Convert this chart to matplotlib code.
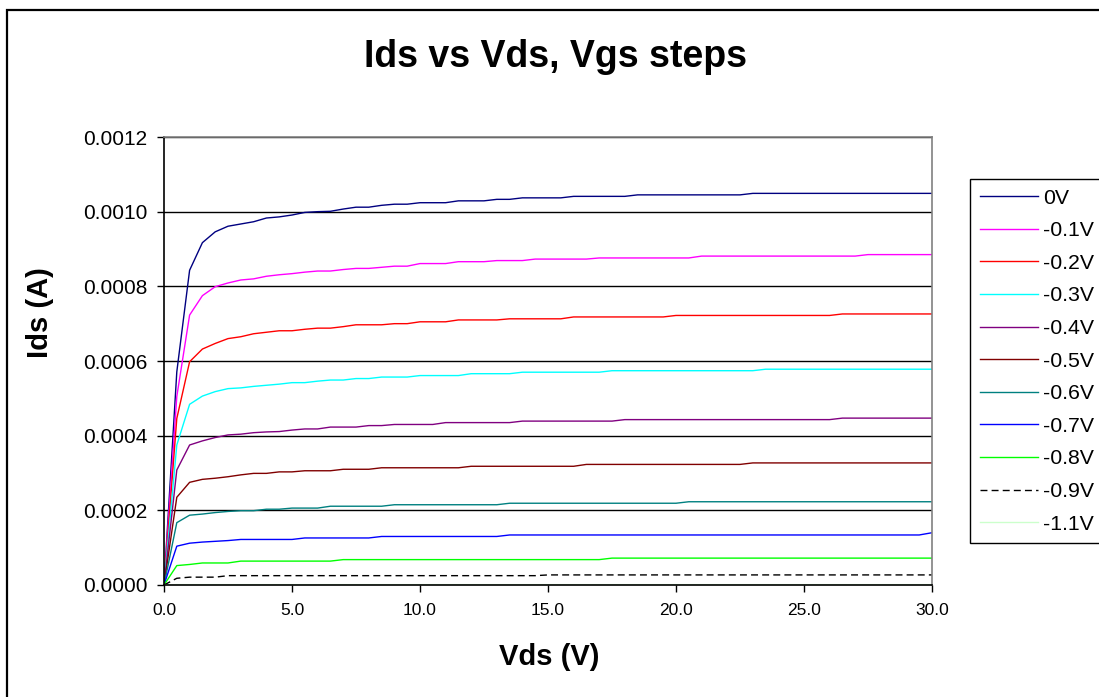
import numpy as np
import matplotlib
matplotlib.use('Agg')
import matplotlib.pyplot as plt
from matplotlib.patches import Rectangle
from matplotlib.ticker import FormatStrFormatter, MultipleLocator

plt.rcParams['font.family'] = ['Liberation Sans', 'DejaVu Sans']

# Drain voltage sweep (V), one sample every 0.5 V
vds = np.arange(0, 30.01, 0.5)

# Drain current per gate step, in uA
ids_0v = [0, 571, 843, 917, 946, 961, 967, 973, 983, 986,
          991, 998, 1000, 1001, 1007, 1012, 1012, 1017, 1020, 1020,
          1024, 1024, 1024, 1029, 1029, 1029, 1033, 1033, 1037, 1037,
          1037, 1037, 1041, 1041, 1041, 1041, 1041, 1045, 1045, 1045,
          1045, 1045, 1045, 1045, 1045, 1045, 1049, 1049, 1049, 1049,
          1049, 1049, 1049, 1049, 1049, 1049, 1049, 1049, 1049, 1049,
          1049]
ids_m01 = [0, 505, 723, 775, 799, 809, 817, 820, 827, 831,
           834, 838, 841, 841, 845, 848, 848, 851, 854, 854,
           861, 861, 861, 866, 866, 866, 869, 869, 869, 873,
           873, 873, 873, 873, 876, 876, 876, 876, 876, 876,
           876, 876, 881, 881, 881, 881, 881, 881, 881, 881,
           881, 881, 881, 881, 881, 885, 885, 885, 885, 885,
           885]
ids_m02 = [0, 446, 598, 632, 647, 660, 665, 673, 677, 681,
           681, 685, 688, 688, 692, 697, 697, 697, 700, 700,
           705, 705, 705, 710, 710, 710, 710, 713, 713, 713,
           713, 713, 718, 718, 718, 718, 718, 718, 718, 718,
           722, 722, 722, 722, 722, 722, 722, 722, 722, 722,
           722, 722, 722, 726, 726, 726, 726, 726, 726, 726,
           726]
ids_m03 = [0, 375, 484, 506, 518, 526, 528, 532, 535, 538,
           542, 542, 546, 549, 549, 553, 553, 557, 557, 557,
           561, 561, 561, 561, 566, 566, 566, 566, 570, 570,
           570, 570, 570, 570, 570, 574, 574, 574, 574, 574,
           574, 574, 574, 574, 574, 574, 574, 578, 578, 578,
           578, 578, 578, 578, 578, 578, 578, 578, 578, 578,
           578]
ids_m04 = [0, 308, 375, 386, 395, 402, 404, 408, 410, 411,
           415, 418, 418, 423, 423, 423, 427, 427, 430, 430,
           430, 430, 435, 435, 435, 435, 435, 435, 439, 439,
           439, 439, 439, 439, 439, 439, 443, 443, 443, 443,
           443, 443, 443, 443, 443, 443, 443, 443, 443, 443,
           443, 443, 443, 447, 447, 447, 447, 447, 447, 447,
           447]
ids_m05 = [0, 235, 275, 283, 286, 290, 295, 299, 299, 303,
           303, 306, 306, 306, 310, 310, 310, 314, 314, 314,
           314, 314, 314, 314, 318, 318, 318, 318, 318, 318,
           318, 318, 318, 323, 323, 323, 323, 323, 323, 323,
           323, 323, 323, 323, 323, 323, 327, 327, 327, 327,
           327, 327, 327, 327, 327, 327, 327, 327, 327, 327,
           327]
ids_m06 = [0, 167, 187, 190, 194, 197, 199, 199, 203, 203,
           206, 206, 206, 211, 211, 211, 211, 211, 215, 215,
           215, 215, 215, 215, 215, 215, 215, 219, 219, 219,
           219, 219, 219, 219, 219, 219, 219, 219, 219, 219,
           219, 223, 223, 223, 223, 223, 223, 223, 223, 223,
           223, 223, 223, 223, 223, 223, 223, 223, 223, 223,
           223]
ids_m07 = [0, 104, 112, 115, 117, 119, 122, 122, 122, 122,
           122, 126, 126, 126, 126, 126, 126, 130, 130, 130,
           130, 130, 130, 130, 130, 130, 130, 134, 134, 134,
           134, 134, 134, 134, 134, 134, 134, 134, 134, 134,
           134, 134, 134, 134, 134, 134, 134, 134, 134, 134,
           134, 134, 134, 134, 134, 134, 134, 134, 134, 134,
           140]
ids_m08 = [0, 52, 55, 59, 59, 59, 64, 64, 64, 64,
           64, 64, 64, 64, 68, 68, 68, 68, 68, 68,
           68, 68, 68, 68, 68, 68, 68, 68, 68, 68,
           68, 68, 68, 68, 68, 72, 72, 72, 72, 72,
           72, 72, 72, 72, 72, 72, 72, 72, 72, 72,
           72, 72, 72, 72, 72, 72, 72, 72, 72, 72,
           72]
ids_m09 = [0, 18, 21, 21, 21, 25, 25, 25, 25, 25,
           25, 25, 25, 25, 25, 25, 25, 25, 25, 25,
           25, 25, 25, 25, 25, 25, 25, 25, 25, 25,
           27, 27, 27, 27, 27, 27, 27, 27, 27, 27,
           27, 27, 27, 27, 27, 27, 27, 27, 27, 27,
           27, 27, 27, 27, 27, 27, 27, 27, 27, 27,
           27]
ids_m11 = [0, 1, 1, 1, 1, 1, 1, 1, 1, 1,
           1, 1, 1, 1, 1, 1, 1, 1, 1, 1,
           1, 1, 1, 1, 1, 1, 1, 1, 1, 1,
           1, 1, 1, 1, 1, 1, 1, 1, 1, 1,
           1, 1, 1, 1, 1, 1, 1, 1, 1, 1,
           1, 1, 1, 1, 1, 1, 1, 1, 1, 1,
           1]

labels = ['0V', '-0.1V', '-0.2V', '-0.3V', '-0.4V', '-0.5V',
          '-0.6V', '-0.7V', '-0.8V', '-0.9V', '-1.1V']
series = [ids_0v, ids_m01, ids_m02, ids_m03, ids_m04, ids_m05,
          ids_m06, ids_m07, ids_m08, ids_m09, ids_m11]
colors = ['#000080', '#FF00FF', '#FF0000', '#00FFFF', '#800080', '#800000',
          '#008080', '#0000FF', '#00FF00', '#000000', '#CCFFCC']

W, H = 1099, 697
fig = plt.figure(figsize=(W / 100, H / 100), dpi=100)

# outer chart frame (runs off the right / bottom edge)
fig.patches.append(Rectangle((7 / W, -0.1), 1.2, 1.1 - 10 / H, transform=fig.transFigure,
                             fill=False, edgecolor='black', linewidth=1.6, clip_on=False))

ax = fig.add_axes([164 / W, 112 / H, 768 / W, 448 / H])

for ids, lab, col in zip(series, labels, colors):
    line, = ax.plot(vds, np.array(ids) * 1e-6, color=col, linewidth=1.0, label=lab)
    if lab == '-0.9V':
        line.set_dashes((5, 3))

ax.set_xlim(0, 30)
ax.set_ylim(0, 0.0012)
ax.xaxis.set_major_locator(MultipleLocator(5))
ax.yaxis.set_major_locator(MultipleLocator(0.0002))
ax.xaxis.set_major_formatter(FormatStrFormatter('%.1f'))
ax.yaxis.set_major_formatter(FormatStrFormatter('%.4f'))
ax.tick_params(axis='x', labelsize=12.5, length=5, width=1.0, pad=8, colors='black')
ax.tick_params(axis='y', labelsize=15, length=5, width=1.0, pad=7, colors='black')
ax.grid(axis='y', color='black', linewidth=1.0)
ax.set_axisbelow(True)

for side in ['left', 'bottom']:
    ax.spines[side].set_color('black')
    ax.spines[side].set_linewidth(1.2)
for side in ['top', 'right']:
    ax.spines[side].set_color('#808080')
    ax.spines[side].set_linewidth(1.2)

fig.text(556 / W, 1 - 57 / H, 'Ids vs Vds, Vgs steps', ha='center', va='center',
         fontsize=27, fontweight='bold')
fig.text(549 / W, 1 - 657 / H, 'Vds (V)', ha='center', va='center',
         fontsize=21, fontweight='bold')
fig.text(40 / W, 1 - 313 / H, 'Ids (A)', ha='center', va='center', rotation=90,
         fontsize=21, fontweight='bold')

leg = ax.legend(loc='upper left', bbox_to_anchor=(970 / W, 1 - 179 / H),
                bbox_transform=fig.transFigure, borderaxespad=0, fontsize=15.3,
                frameon=True, fancybox=False, edgecolor='black', framealpha=1,
                handlelength=2.75, handletextpad=0.24, labelspacing=0.64,
                borderpad=0.45)
leg.get_frame().set_linewidth(1.0)

fig.savefig('out.png', dpi=100)
